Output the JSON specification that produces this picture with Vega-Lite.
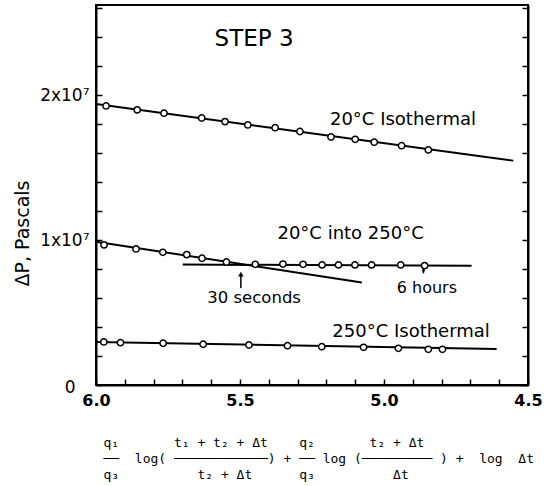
{
  "$schema": "https://vega.github.io/schema/vega-lite/v6.json",
  "width": 432,
  "height": 380,
  "autosize": {"type": "none"},
  "padding": {"left": 96, "top": 5, "right": 18, "bottom": 101},
  "background": "white",
  "config": {
    "view": {"stroke": "black", "strokeWidth": 2},
    "font": "DejaVu Sans",
    "axis": {"grid": false, "domainColor": "black", "domainWidth": 2, "tickColor": "black", "tickWidth": 1.5, "labelColor": "black", "titleColor": "black"}
  },
  "datasets": {
    "points": [
      {"series": "20iso", "x": 5.965, "y": 19240000}, {"series": "20iso", "x": 5.857, "y": 18970000},
      {"series": "20iso", "x": 5.764, "y": 18740000}, {"series": "20iso", "x": 5.633, "y": 18410000},
      {"series": "20iso", "x": 5.552, "y": 18160000}, {"series": "20iso", "x": 5.473, "y": 17930000},
      {"series": "20iso", "x": 5.378, "y": 17740000}, {"series": "20iso", "x": 5.292, "y": 17480000},
      {"series": "20iso", "x": 5.184, "y": 17100000}, {"series": "20iso", "x": 5.100, "y": 16940000},
      {"series": "20iso", "x": 5.034, "y": 16740000}, {"series": "20iso", "x": 4.939, "y": 16500000},
      {"series": "20iso", "x": 4.846, "y": 16210000},
      {"series": "into", "x": 5.972, "y": 9660000}, {"series": "into", "x": 5.861, "y": 9380000},
      {"series": "into", "x": 5.768, "y": 9150000}, {"series": "into", "x": 5.685, "y": 8990000},
      {"series": "into", "x": 5.632, "y": 8740000}, {"series": "into", "x": 5.547, "y": 8480000},
      {"series": "into", "x": 5.447, "y": 8320000}, {"series": "into", "x": 5.351, "y": 8340000},
      {"series": "into", "x": 5.281, "y": 8320000}, {"series": "into", "x": 5.215, "y": 8280000},
      {"series": "into", "x": 5.158, "y": 8280000}, {"series": "into", "x": 5.101, "y": 8280000},
      {"series": "into", "x": 5.043, "y": 8280000}, {"series": "into", "x": 4.942, "y": 8280000},
      {"series": "into", "x": 4.859, "y": 8230000},
      {"series": "250iso", "x": 5.973, "y": 2970000}, {"series": "250iso", "x": 5.915, "y": 2920000},
      {"series": "250iso", "x": 5.767, "y": 2880000}, {"series": "250iso", "x": 5.628, "y": 2810000},
      {"series": "250iso", "x": 5.469, "y": 2760000}, {"series": "250iso", "x": 5.335, "y": 2710000},
      {"series": "250iso", "x": 5.216, "y": 2640000}, {"series": "250iso", "x": 5.071, "y": 2600000},
      {"series": "250iso", "x": 4.950, "y": 2530000}, {"series": "250iso", "x": 4.846, "y": 2460000},
      {"series": "250iso", "x": 4.797, "y": 2460000}
    ],
    "fits": [
      {"series": "20iso", "x": 6.0, "y": 19380000}, {"series": "20iso", "x": 4.551, "y": 15470000},
      {"series": "slope", "x": 6.0, "y": 9880000}, {"series": "slope", "x": 5.077, "y": 7060000},
      {"series": "flat", "x": 5.699, "y": 8300000}, {"series": "flat", "x": 4.696, "y": 8230000},
      {"series": "250iso", "x": 6.0, "y": 2970000}, {"series": "250iso", "x": 4.609, "y": 2480000}
    ],
    "labels": [
      {"text": "STEP 3", "x": 5.451, "y": 23860000, "size": 23},
      {"text": "20°C Isothermal", "x": 4.934, "y": 18280000, "size": 18},
      {"text": "20°C into 250°C", "x": 5.116, "y": 10380000, "size": 18},
      {"text": "30 seconds", "x": 5.451, "y": 6000000, "size": 16.5},
      {"text": "6 hours", "x": 4.851, "y": 6720000, "size": 16},
      {"text": "250°C Isothermal", "x": 4.906, "y": 3620000, "size": 18}
    ],
    "arrows": [
      {"x": 5.497, "y": 6690000, "y2": 7650000, "head": 7650000, "hs": 30},
      {"x": 4.863, "y": 7700000, "y2": 7950000, "head": 7950000, "hs": 14}
    ]
  },
  "encoding": {
    "x": {
      "field": "x", "type": "quantitative",
      "scale": {"domain": [4.5, 6.0], "reverse": true, "nice": false, "zero": false},
      "axis": {
        "values": [6.0, 5.9, 5.8, 5.7, 5.6, 5.5, 5.4, 5.3, 5.2, 5.1, 5.0, 4.9, 4.8, 4.7, 4.6, 4.5],
        "labelExpr": "abs(datum.value * 2 - round(datum.value * 2)) < 0.001 ? format(datum.value, '.1f') : ''",
        "tickSize": -6, "labelPadding": 13, "labelFontSize": 16, "labelFontWeight": "bold",
        "labelFlush": false, "labelOverlap": false,
        "title": [
          "q₁\u00a0\u00a0\u00a0\u00a0\u00a0\u00a0\u00a0t₁\u00a0+\u00a0t₂\u00a0+\u00a0Δt\u00a0\u00a0\u00a0\u00a0q₂\u00a0\u00a0\u00a0\u00a0\u00a0\u00a0\u00a0t₂\u00a0+\u00a0Δt",
          "──\u00a0\u00a0log(\u00a0────────────)\u00a0+\u00a0──\u00a0log\u00a0(─────────\u00a0)\u00a0+\u00a0\u00a0log\u00a0\u00a0Δt",
          "q₃\u00a0\u00a0\u00a0\u00a0\u00a0\u00a0\u00a0\u00a0\u00a0\u00a0t₂\u00a0+\u00a0Δt\u00a0\u00a0\u00a0\u00a0\u00a0\u00a0q₃\u00a0\u00a0\u00a0\u00a0\u00a0\u00a0\u00a0\u00a0\u00a0\u00a0Δt"
        ],
        "titleFont": "DejaVu Sans Mono", "titleFontSize": 13, "titleFontWeight": "normal",
        "titleLineHeight": 16, "titleAlign": "left", "titleBaseline": "middle",
        "titleX": 7, "titleY": 57
      }
    }
  },
  "layer": [
    {
      "data": {"name": "fits"},
      "mark": {"type": "line", "color": "black", "strokeWidth": 2},
      "encoding": {
        "detail": {"field": "series", "type": "nominal"},
        "y": {
          "field": "y", "type": "quantitative",
          "scale": {"domain": [0, 26200000], "nice": false, "zero": true},
          "axis": {
            "orient": "left",
            "values": [0, 2000000, 4000000, 6000000, 8000000, 10000000, 12000000, 14000000, 16000000, 18000000, 20000000, 22000000, 24000000, 26000000],
            "labelExpr": "datum.value == 0 ? '0' : datum.value == 10000000 ? '1x10⁷' : datum.value == 20000000 ? '2x10⁷' : ''",
            "tickSize": -6,
            "labelPadding": {"condition": {"test": "datum.value == 0", "value": 27}, "value": 13},
            "labelOffset": {"condition": {"test": "datum.value == 0", "value": 2}, "value": 1},
            "labelFontSize": 17, "labelOverlap": false, "labelFlush": false,
            "title": "ΔP, Pascals", "titleFontSize": 19, "titleFontWeight": "normal",
            "titleAngle": -90, "titleAlign": "center", "titleBaseline": "middle", "titleX": -74, "titleY": 228
          }
        }
      }
    },
    {
      "data": {"name": "points"},
      "mark": {"type": "point", "shape": "circle", "filled": true, "fill": "white", "stroke": "black", "strokeWidth": 1.5, "size": 40, "opacity": 1},
      "encoding": {
        "y": {
          "field": "y", "type": "quantitative",
          "axis": {
            "orient": "right", "labels": false, "title": null, "tickSize": -6, "domain": true,
            "values": [0, 2000000, 4000000, 6000000, 8000000, 10000000, 12000000, 14000000, 16000000, 18000000, 20000000, 22000000, 24000000, 26000000]
          }
        }
      }
    },
    {
      "data": {"name": "labels"},
      "mark": {"type": "text", "color": "black", "align": "center", "baseline": "middle"},
      "encoding": {
        "y": {"field": "y", "type": "quantitative", "axis": null},
        "text": {"field": "text", "type": "nominal"},
        "size": {"field": "size", "type": "quantitative", "scale": null}
      }
    },
    {
      "data": {"name": "arrows"},
      "mark": {"type": "rule", "color": "black", "strokeWidth": 1.5},
      "encoding": {
        "y": {"field": "y", "type": "quantitative", "axis": null},
        "y2": {"field": "y2"}
      }
    },
    {
      "data": {"name": "arrows"},
      "mark": {"type": "point", "shape": "triangle-up", "filled": true, "color": "black", "opacity": 1},
      "encoding": {
        "y": {"field": "head", "type": "quantitative", "axis": null},
        "size": {"field": "hs", "type": "quantitative", "scale": null}
      }
    }
  ],
  "resolve": {"axis": {"y": "independent"}}
}
